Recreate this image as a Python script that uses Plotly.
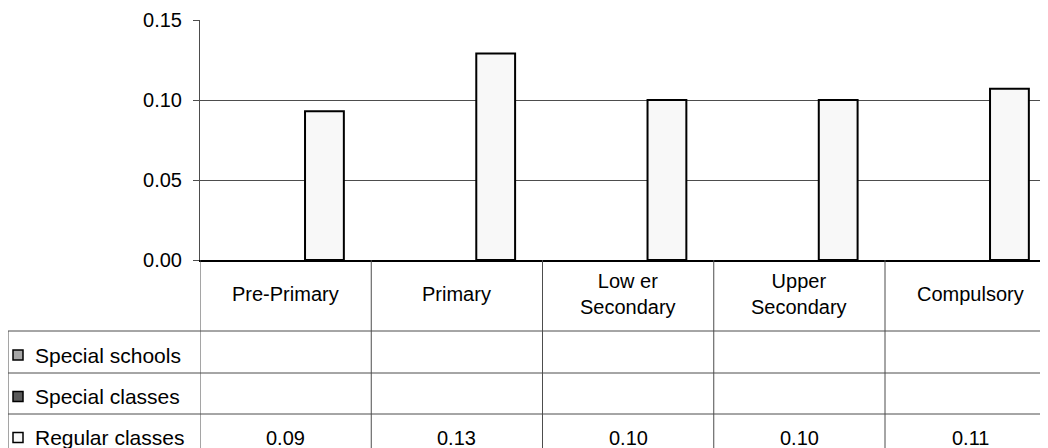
import plotly.graph_objects as go

# ---- data ----
categories = ["Pre-Primary", "Primary", "Lower Secondary", "Upper Secondary", "Compulsory"]
category_labels = ["Pre-Primary", "Primary", "Low er<br>Secondary", "Upper<br>Secondary", "Compulsory"]
series_names = ["Special schools", "Special classes", "Regular classes"]
special_schools = [None, None, None, None, None]
special_classes = [None, None, None, None, None]
regular_classes = [0.093, 0.129, 0.100, 0.100, 0.107]
series_colors = ["#a6a6a6", "#595959", "#f8f8f8"]
y_ticks = [0.00, 0.05, 0.10, 0.15]

series_values = [special_schools, special_classes, regular_classes]

# ---- geometry (page pixels; the page body has an 8px margin) ----
OFF = 8
PAGE_W, PAGE_H = 1048, 448
W, H = PAGE_W - OFF, PAGE_H - OFF
PLOT_L, PLOT_T, PLOT_B = 200, 20, 260  # page pixels
L = PLOT_L - OFF
T = PLOT_T - OFF
B = H - (PLOT_B - OFF)
R = 0
PW, PH = W - L - R, H - T - B
CAT_W = 171.25


def py(p):
    return (PLOT_B - p) / PH


def px(p):
    return (p - PLOT_L) / PW


FONT = "Liberation Sans, Arial, sans-serif"
FS = 20
LINE_COL = "#4d4d4d"

fig = go.Figure()
for name, vals, col in zip(series_names, series_values, series_colors):
    fig.add_trace(go.Bar(
        x=categories, y=vals, name=name,
        marker=dict(color=col, line=dict(color="black", width=2)),
        showlegend=False,
    ))

shapes = []
annotations = []

header_bottom = 331
row_edges = [331, 373, 414, 455]
table_left = 8

# vertical lines at category boundaries (through header and table rows)
for i in range(len(categories)):
    shapes.append(dict(type="line", xref="x", yref="paper",
                       x0=i - 0.5, x1=i - 0.5, y0=0, y1=py(PAGE_H + 5),
                       line=dict(color=LINE_COL, width=1), layer="above"))
# horizontal table lines
for e in row_edges[:-1]:
    shapes.append(dict(type="line", xref="paper", yref="paper",
                       x0=px(table_left), x1=1.0, y0=py(e), y1=py(e),
                       line=dict(color=LINE_COL, width=1)))
# left border of legend column
shapes.append(dict(type="line", xref="paper", yref="paper",
                   x0=px(table_left), x1=px(table_left), y0=py(header_bottom), y1=py(PAGE_H + 5),
                   line=dict(color=LINE_COL, width=1)))

# category labels in header row
for i, lab in enumerate(category_labels):
    annotations.append(dict(x=i, y=py(294), xref="x", yref="paper", text=lab,
                            showarrow=False, xanchor="center", yanchor="middle",
                            font=dict(family=FONT, size=FS, color="black")))

# table rows: legend keys + values
for r, (name, vals, col) in enumerate(zip(series_names, series_values, series_colors)):
    top, bot = row_edges[r], row_edges[r + 1]
    cy = (top + bot) / 2 + 3
    shapes.append(dict(type="rect", xref="paper", yref="paper",
                       x0=px(13), x1=px(23), y0=py(cy - 5), y1=py(cy + 5),
                       fillcolor=col, line=dict(color="black", width=1.5)))
    annotations.append(dict(x=px(33), y=py(cy), xref="paper", yref="paper", text=name,
                            showarrow=False, xanchor="left", yanchor="middle",
                            font=dict(family=FONT, size=21, color="black")))
    for i, v in enumerate(vals):
        if v is None:
            continue
        annotations.append(dict(x=i, y=py(cy), xref="x", yref="paper", text=f"{v:.2f}",
                                showarrow=False, xanchor="center", yanchor="middle",
                                font=dict(family=FONT, size=FS, color="black")))

fig.update_layout(
    width=W, height=H,
    margin=dict(l=L, r=R, t=T, b=B, pad=0),
    paper_bgcolor="white", plot_bgcolor="white",
    barmode="group", bargap=0.32, bargroupgap=0,
    shapes=shapes, annotations=annotations,
    font=dict(family=FONT, size=FS, color="black"),
    xaxis=dict(type="category", categoryorder="array", categoryarray=categories,
               range=[-0.5, -0.5 + PW / CAT_W], showticklabels=False, ticks="",
               showgrid=False, showline=True, linecolor="black", linewidth=2,
               zeroline=False, fixedrange=True),
    yaxis=dict(range=[0, 0.15], tickvals=y_ticks, tickformat=".2f",
               ticks="outside", ticklen=6, tickcolor=LINE_COL, tickwidth=1,
               showline=True, linecolor=LINE_COL, linewidth=1,
               showgrid=True, gridcolor=LINE_COL, gridwidth=1,
               zeroline=False, ticklabelstandoff=7,
               tickfont=dict(family=FONT, size=FS, color="black"), fixedrange=True),
)

fig.write_html("out.html")
